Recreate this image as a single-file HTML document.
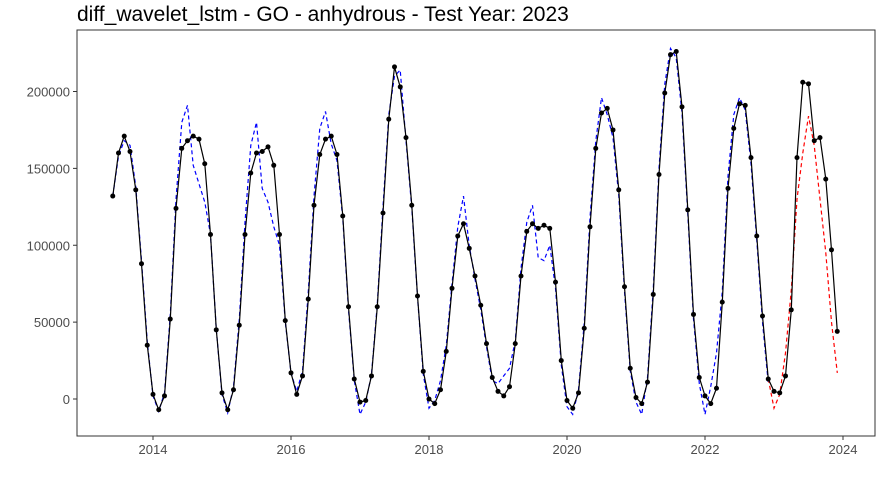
<!DOCTYPE html>
<html><head><meta charset="utf-8"><style>
body{margin:0;background:#fff;}
svg{display:block;font-family:"Liberation Sans",Arial,sans-serif;}
</style></head><body>
<svg id="chart" width="880" height="480">
<text x="77" y="21" font-size="21" fill="#000">diff_wavelet_lstm - GO - anhydrous - Test Year: 2023</text>
<rect x="77" y="30" width="798" height="406" fill="none" stroke="#333" stroke-width="1"/>
<g id="axes"></g>
<g id="series"></g>
</svg>
<script>
const startYear = 2013, startMonth = 6;
const actual = [132000,160000,171000,161000,136000,88000,35000,
3000,-7000,2000,52000,124000,163000,168000,171000,169000,153000,107000,45000,
4000,-7000,6000,48000,107000,147000,160000,161000,164000,152000,107000,51000,
17000,3000,15000,65000,126000,159000,169000,171000,159000,119000,60000,13000,
-2000,-1000,15000,60000,121000,182000,216000,203000,170000,126000,67000,18000,
0,-3000,6000,31000,72000,106000,114000,98000,80000,61000,36000,14000,
5000,2000,8000,36000,80000,109000,114000,111000,113000,111000,76000,25000,
-1000,-6000,4000,46000,112000,163000,186000,189000,175000,136000,73000,20000,
1000,-3000,11000,68000,146000,199000,224000,226000,190000,123000,55000,14000,
2000,-3000,7000,63000,137000,176000,192000,191000,157000,106000,54000,13000,
5000,4000,15000,58000,157000,206000,205000,168000,170000,143000,97000,44000];
const fitted = [132000,158000,168000,165000,138000,90000,37000,
2000,-8000,4000,55000,130000,180000,191000,152000,140000,128000,107000,45000,
3000,-9000,8000,52000,115000,165000,180000,137000,128000,112000,100000,50000,
17000,5000,18000,70000,132000,176000,187000,166000,155000,117000,58000,12000,
-10000,-2000,16000,62000,125000,185000,210000,214000,168000,124000,66000,16000,
-6000,-1000,12000,35000,75000,112000,132000,100000,78000,58000,34000,12000,
10000,15000,20000,38000,85000,115000,126000,92000,90000,100000,72000,22000,
-5000,-10000,6000,50000,118000,168000,196000,185000,170000,132000,70000,18000,
-2000,-10000,14000,72000,150000,205000,228000,222000,186000,120000,52000,10000,
-10000,8000,30000,70000,145000,185000,196000,188000,153000,103000,50000,10000];
const forecast = [13000,-6000,3000,30000,71000,130000,160000,184000,165000,130000,95000,50000,17000];
const forecastStartIndex = 114;
const yTicks = [0,50000,100000,150000,200000];
const xTicks = [2014,2016,2018,2020,2022,2024];

const NS="http://www.w3.org/2000/svg";
const xS = t => 153 + (t-2014)*69;
const yS = v => 399 - v*0.0015375;
const tOf = i => startYear + (startMonth-1+i)/12;
const axes=document.getElementById('axes'), ser=document.getElementById('series');
function mk(tag,attrs,parent){const e=document.createElementNS(NS,tag);for(const k in attrs)e.setAttribute(k,attrs[k]);parent.appendChild(e);return e;}
yTicks.forEach(v=>{
  mk('line',{x1:73,x2:77,y1:yS(v),y2:yS(v),stroke:'#333'},axes);
  const t=mk('text',{x:70,y:yS(v)+5,'text-anchor':'end','font-size':13,fill:'#4d4d4d'},axes);
  t.textContent=v;
  
  
});
xTicks.forEach(v=>{
  mk('line',{x1:xS(v),x2:xS(v),y1:436,y2:440,stroke:'#333'},axes);
  const t=mk('text',{x:xS(v),y:454,'text-anchor':'middle','font-size':13,fill:'#4d4d4d'},axes);
  t.textContent=v;
  
  
});
function line(vals,off,color,dash,name){
  const d=vals.map((v,i)=>(i?'L':'M')+xS(tOf(i+off)).toFixed(1)+','+yS(v).toFixed(1)).join('');
  const p=mk('path',{d:d,fill:'none',stroke:color,'stroke-width':1.2,'stroke-dasharray':dash||'none'},ser);
  
  
}
line(fitted,0,'#0000ff','4,3','fitted-line');
line(forecast,forecastStartIndex,'#ff0000','4,3','forecast-line');
line(actual,0,'#000','', 'actual-line');
actual.forEach((v,i)=>{
  const c=mk('circle',{cx:xS(tOf(i)),cy:yS(v),r:2.5,fill:'#000'},ser);
  
  
});
</script>
</body></html>
